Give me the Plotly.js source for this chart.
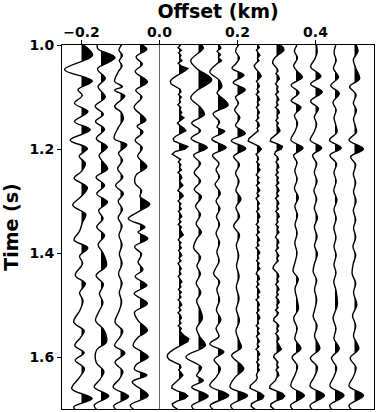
<!DOCTYPE html>
<html><head><meta charset="utf-8">
<script src="https://cdn.plot.ly/plotly-3.0.1.min.js"></script>
<style>html,body{margin:0;padding:0;background:#fff;} #chart{width:376px;height:412px;}</style>
</head><body><div id="chart"></div>
<script>
// ---- data: trace offsets (km) and wiggle samples [time (s), amplitude] ----
const offsets = [-0.2, -0.15, -0.1, -0.05, 0.05, 0.1, 0.15, 0.2, 0.25, 0.3, 0.35, 0.4, 0.45, 0.5];
const xTickVals = [-0.2, 0.0, 0.2, 0.4];
const xTickText = ['\u22120.2', '0.0', '0.2', '0.4'];
const yTickVals = [1.0, 1.2, 1.4, 1.6];
const yTickText = ['1.0', '1.2', '1.4', '1.6'];

const tr_m20 = [[1.000,0.10],[1.020,0.57],[1.047,-0.87],[1.069,0.55],[1.086,-0.18],[1.097,0.04],[1.112,-0.36],[1.128,0.33],[1.147,-0.36],[1.163,0.45],[1.183,-0.58],[1.199,0.30],[1.214,-0.12],[1.228,0.20],[1.243,0.00],[1.256,-0.38],[1.274,0.30],[1.290,0.02],[1.308,-0.45],[1.326,0.22],[1.341,0.05],[1.358,-0.10],[1.375,-0.38],[1.390,0.32],[1.406,-0.10],[1.420,0.06],[1.443,-0.32],[1.459,0.20],[1.476,-0.10],[1.492,0.08],[1.510,-0.08],[1.533,-0.40],[1.550,0.14],[1.563,-0.06],[1.578,-0.34],[1.592,0.14],[1.606,-0.32],[1.622,0.15],[1.640,-0.12],[1.661,-0.50],[1.680,0.55],[1.696,-0.40],[1.705,-0.20]];
const tr_m15 = [[1.000,-0.20],[1.008,-0.15],[1.024,0.72],[1.046,-0.18],[1.064,0.22],[1.080,-0.15],[1.100,0.22],[1.118,-0.30],[1.133,0.12],[1.147,-0.28],[1.162,0.18],[1.180,-0.24],[1.196,0.32],[1.212,-0.10],[1.224,0.08],[1.238,0.34],[1.254,-0.25],[1.270,0.18],[1.286,-0.22],[1.302,0.34],[1.318,-0.12],[1.334,0.10],[1.350,-0.22],[1.366,0.18],[1.384,-0.15],[1.400,0.10],[1.424,0.28],[1.443,-0.25],[1.460,0.12],[1.478,-0.08],[1.495,0.10],[1.512,-0.10],[1.530,-0.28],[1.548,0.15],[1.571,0.28],[1.586,-0.22],[1.610,-0.25],[1.628,0.15],[1.643,-0.05],[1.658,-0.35],[1.675,0.40],[1.693,-0.35],[1.705,-0.10]];
const tr_m10 = [[1.000,0.05],[1.010,-0.08],[1.020,0.10],[1.030,-0.06],[1.040,0.08],[1.052,-0.12],[1.070,-0.30],[1.080,0.10],[1.087,-0.30],[1.098,0.22],[1.118,-0.30],[1.130,0.05],[1.142,0.15],[1.158,-0.10],[1.180,-0.32],[1.192,0.32],[1.208,-0.10],[1.222,0.10],[1.238,-0.15],[1.254,0.12],[1.270,-0.25],[1.286,0.15],[1.300,-0.12],[1.316,0.10],[1.332,-0.12],[1.348,0.08],[1.366,-0.08],[1.384,0.08],[1.402,-0.06],[1.420,0.08],[1.440,-0.10],[1.458,0.08],[1.476,-0.06],[1.494,0.06],[1.512,-0.08],[1.533,-0.28],[1.550,0.12],[1.563,-0.05],[1.578,-0.30],[1.592,0.22],[1.610,-0.28],[1.628,0.12],[1.642,-0.05],[1.658,-0.38],[1.676,0.42],[1.694,-0.35],[1.705,-0.10]];
const tr_m05 = [[1.000,0.10],[1.008,0.35],[1.023,-0.20],[1.037,0.12],[1.051,-0.25],[1.071,0.38],[1.087,-0.22],[1.100,0.10],[1.120,-0.30],[1.144,0.30],[1.156,-0.15],[1.168,0.15],[1.183,-0.25],[1.198,0.12],[1.214,-0.12],[1.234,0.35],[1.250,-0.20],[1.266,-0.25],[1.280,0.08],[1.292,0.00],[1.306,0.50],[1.320,-0.05],[1.334,-0.60],[1.350,0.25],[1.360,-0.10],[1.372,0.40],[1.388,-0.28],[1.402,0.08],[1.418,-0.10],[1.432,0.15],[1.445,-0.25],[1.462,0.35],[1.478,-0.30],[1.497,0.38],[1.514,-0.28],[1.530,-0.10],[1.549,0.38],[1.562,-0.10],[1.578,-0.35],[1.590,0.10],[1.600,0.42],[1.615,-0.20],[1.624,-0.28],[1.635,0.35],[1.648,-0.40],[1.674,0.42],[1.693,-0.50],[1.705,-0.15]];
// noisy traces: amplitudes every 5 ms from 1.000 s
const tr_p05 = [0.08,-0.05,0.12,-0.02,0.10,0.03,0.15,-0.04,0.10,
 0.45,0.30,0.05,-0.15,-0.35,-0.45,-0.40,-0.15,0.05,
 0.10,-0.03,0.12,0.02,0.08,-0.06,0.10,0.04,0.14,0.05,
 0.25,0.10,-0.08,0.05,0.25,0.35,0.10,-0.15,-0.30,-0.25,0.10,0.45,0.30,-0.20,-0.35,-0.10,0.08,
 -0.04,0.10,0.02,0.12,-0.05,0.08,0.15,0.03,0.10,0.20,
 0.05,-0.06,0.12,0.22,0.08,-0.05,0.10,0.02,0.12,-0.03,
 0.08,0.14,0.00,0.10,-0.04,0.12,0.05,0.15,0.22,0.06,
 -0.04,0.10,0.02,0.12,-0.02,0.08,0.14,0.00,0.10,-0.05,
 0.06,0.12,0.02,0.10,-0.04,0.08,0.15,0.04,0.10,-0.03,
 0.12,0.02,0.10,-0.04,0.08,0.14,0.00,0.10,-0.05,0.08,
 0.12,0.02,0.10,-0.04,0.12,0.05,0.15,0.30,
 0.50,0.45,0.20,-0.05,-0.25,-0.45,-0.58,-0.60,-0.50,-0.25,
 0.05,0.10,-0.02,0.12,0.20,0.08,-0.05,-0.20,-0.35,-0.37,
 -0.10,0.30,0.45,0.30,-0.10,-0.35,-0.30,-0.10,0.05];
const tr_p10 = [[1.000,0.15],[1.006,0.25],[1.030,-0.40],[1.045,-0.10],[1.067,0.68],[1.088,-0.10],[1.102,-0.40],[1.120,0.10],[1.134,0.30],[1.150,-0.35],[1.165,0.10],[1.180,-0.38],[1.197,0.45],[1.212,-0.25],[1.228,0.10],[1.245,-0.22],[1.262,0.10],[1.278,-0.22],[1.292,0.15],[1.310,-0.15],[1.326,0.10],[1.344,-0.12],[1.360,0.15],[1.372,-0.08],[1.390,-0.25],[1.408,0.10],[1.425,-0.08],[1.440,0.10],[1.458,-0.12],[1.476,0.12],[1.492,-0.10],[1.508,0.08],[1.526,0.20],[1.545,-0.10],[1.560,0.05],[1.578,0.35],[1.600,-0.65],[1.620,0.15],[1.636,-0.10],[1.645,0.25],[1.658,-0.35],[1.675,0.50],[1.694,-0.35],[1.705,-0.10]];
const tr_p15 = [[1.000,0.05],[1.006,0.15],[1.012,-0.05],[1.018,0.12],[1.024,0.02],[1.030,0.18],[1.036,-0.05],[1.052,-0.42],[1.068,0.08],[1.080,0.20],[1.092,-0.05],[1.115,0.52],[1.132,-0.25],[1.148,0.08],[1.158,-0.05],[1.166,0.35],[1.181,-0.32],[1.197,0.42],[1.212,-0.28],[1.228,0.05],[1.240,-0.10],[1.254,0.08],[1.268,-0.15],[1.285,0.12],[1.300,-0.10],[1.315,0.10],[1.330,-0.08],[1.345,0.08],[1.362,-0.10],[1.380,0.08],[1.398,-0.06],[1.415,0.06],[1.440,-0.22],[1.455,0.08],[1.470,-0.06],[1.490,0.08],[1.510,-0.08],[1.528,0.15],[1.545,-0.10],[1.560,0.05],[1.575,-0.42],[1.590,0.30],[1.605,-0.20],[1.622,0.12],[1.638,-0.08],[1.655,-0.42],[1.674,0.55],[1.693,-0.40],[1.705,-0.10]];
const tr_p20 = [[1.000,0.05],[1.012,-0.10],[1.025,0.10],[1.036,-0.08],[1.045,-0.28],[1.058,0.33],[1.072,-0.22],[1.086,0.40],[1.100,-0.10],[1.112,0.05],[1.125,-0.15],[1.140,0.12],[1.155,-0.10],[1.170,0.40],[1.184,-0.32],[1.199,0.42],[1.214,-0.20],[1.230,0.10],[1.246,-0.10],[1.262,0.08],[1.280,-0.08],[1.296,0.18],[1.312,-0.08],[1.330,0.10],[1.348,-0.20],[1.365,0.10],[1.385,-0.06],[1.405,0.06],[1.425,-0.05],[1.445,0.08],[1.465,-0.06],[1.488,0.08],[1.508,-0.06],[1.530,0.10],[1.550,-0.08],[1.570,0.10],[1.582,0.20],[1.597,-0.30],[1.622,0.32],[1.640,-0.15],[1.658,-0.38],[1.674,0.52],[1.693,-0.35],[1.705,-0.10]];
const tr_p25 = [0.05,0.12,-0.03,0.08,0.15,0.02,0.10,-0.05,
 -0.15,-0.08,0.05,0.15,0.22,0.10,-0.03,0.08,
 0.12,0.00,0.10,-0.04,0.08,0.14,0.02,0.10,-0.03,0.06,0.12,0.02,0.09,-0.05,0.08,0.12,0.00,0.06,-0.10,-0.25,
 -0.42,-0.45,-0.20,0.10,0.22,0.12,-0.05,0.05,
 0.08,-0.02,0.12,0.05,0.15,0.03,-0.04,0.10,0.02,0.12,
 -0.03,0.08,0.14,0.00,0.10,-0.05,0.06,0.12,0.03,0.10,
 -0.02,0.09,0.15,0.04,0.08,-0.04,0.10,0.02,0.12,-0.03,
 0.07,0.13,0.01,0.10,-0.05,0.08,0.14,0.03,0.09,-0.02,
 0.11,0.04,0.15,0.02,-0.04,0.09,0.12,0.00,0.10,-0.03,
 0.08,0.14,0.02,0.10,-0.05,0.07,0.12,0.03,0.11,-0.02,
 0.09,0.15,0.04,0.08,-0.04,0.10,0.02,0.12,-0.03,0.07,
 0.13,0.01,0.10,-0.05,0.08,0.14,0.03,0.09,-0.02,0.11,
 0.04,0.12,0.02,-0.03,0.02,
 -0.05,-0.20,-0.34,-0.36,-0.10,0.20,0.35,0.28,-0.05,-0.28,-0.30,-0.10,0.05];
const tr_p30 = [0.20,0.35,0.38,0.25,0.05,-0.10,-0.18,-0.20,-0.10,0.02,
 0.08,-0.03,0.10,0.15,0.04,-0.05,0.08,0.02,0.10,-0.04,
 0.06,0.12,0.00,0.08,-0.05,0.10,0.15,0.03,0.08,-0.03,
 0.10,0.02,0.12,0.18,0.05,-0.10,-0.28,-0.32,0.05,0.30,
 0.25,-0.05,-0.10,0.05,0.10,-0.03,0.08,0.12,0.00,0.09,
 -0.04,0.10,0.03,0.12,-0.02,0.08,0.13,0.01,0.10,-0.05,
 0.07,0.12,0.02,0.10,-0.04,0.09,0.14,0.03,0.08,-0.03,
 0.10,0.04,0.13,0.01,-0.05,0.08,0.12,0.02,0.10,-0.04,
 0.06,0.12,0.02,0.09,-0.05,-0.15,-0.18,-0.05,0.08,0.12,
 0.03,0.10,-0.04,0.07,0.13,0.01,0.09,-0.03,0.10,0.14,
 0.02,0.08,-0.05,0.10,0.04,-0.12,-0.15,0.02,0.12,0.03,
 0.09,-0.04,0.08,0.13,0.02,0.10,0.18,0.25,0.10,-0.10,
 -0.15,-0.05,0.08,0.02,0.10,-0.03,0.08,0.12,0.00,-0.05,
 -0.20,-0.33,-0.35,-0.05,0.30,0.42,0.30,-0.05,-0.28,-0.30,
 -0.12,0.02];
const tr_p35 = [[1.000,0.05],[1.012,-0.08],[1.025,0.08],[1.040,-0.12],[1.050,0.05],[1.062,0.33],[1.077,-0.25],[1.092,0.15],[1.107,-0.25],[1.120,0.25],[1.135,-0.08],[1.150,0.08],[1.166,-0.05],[1.183,-0.26],[1.198,0.36],[1.212,-0.12],[1.226,0.05],[1.242,-0.06],[1.258,0.06],[1.276,-0.08],[1.293,0.12],[1.310,-0.06],[1.328,0.08],[1.345,-0.05],[1.362,0.06],[1.380,-0.06],[1.400,0.05],[1.418,-0.05],[1.435,-0.15],[1.450,0.12],[1.468,-0.05],[1.490,0.06],[1.508,0.12],[1.525,-0.12],[1.545,0.06],[1.565,-0.06],[1.584,0.25],[1.600,-0.20],[1.618,0.08],[1.635,-0.06],[1.656,-0.26],[1.674,0.43],[1.693,-0.28],[1.705,-0.05]];
const tr_p40 = [[1.000,0.05],[1.015,0.08],[1.028,-0.05],[1.042,-0.25],[1.060,0.28],[1.075,-0.25],[1.090,0.35],[1.108,-0.25],[1.122,0.15],[1.138,-0.06],[1.152,0.06],[1.168,-0.08],[1.183,-0.27],[1.198,0.32],[1.212,-0.15],[1.228,0.06],[1.245,-0.06],[1.262,0.08],[1.280,-0.08],[1.296,0.06],[1.314,-0.06],[1.332,0.10],[1.350,-0.06],[1.368,0.08],[1.386,-0.05],[1.402,0.10],[1.420,-0.05],[1.436,-0.12],[1.452,0.06],[1.470,-0.05],[1.490,0.06],[1.510,-0.05],[1.522,-0.12],[1.540,0.08],[1.560,-0.05],[1.584,0.22],[1.602,-0.26],[1.620,0.10],[1.638,-0.06],[1.656,-0.28],[1.674,0.46],[1.693,-0.28],[1.705,-0.05]];
const tr_p45 = [[1.000,0.04],[1.015,-0.05],[1.030,0.06],[1.045,-0.08],[1.062,0.18],[1.078,-0.22],[1.093,0.22],[1.110,-0.10],[1.125,0.06],[1.140,-0.05],[1.155,0.05],[1.168,0.10],[1.183,-0.28],[1.198,0.32],[1.212,-0.26],[1.228,0.08],[1.245,-0.05],[1.262,0.06],[1.280,-0.06],[1.298,0.10],[1.316,-0.05],[1.334,0.06],[1.352,-0.06],[1.370,0.05],[1.388,-0.05],[1.404,0.06],[1.422,-0.05],[1.438,0.05],[1.455,-0.06],[1.472,0.05],[1.500,0.12],[1.525,-0.10],[1.545,0.05],[1.565,-0.05],[1.584,0.22],[1.602,-0.18],[1.620,0.08],[1.638,-0.06],[1.656,-0.26],[1.674,0.46],[1.693,-0.27],[1.705,-0.05]];
const tr_p50 = [[1.000,0.08],[1.012,0.18],[1.028,-0.06],[1.044,0.06],[1.065,0.26],[1.080,-0.25],[1.095,0.08],[1.112,-0.06],[1.125,0.10],[1.142,-0.05],[1.158,0.06],[1.168,0.10],[1.183,-0.28],[1.200,0.46],[1.215,-0.20],[1.230,0.06],[1.248,-0.06],[1.265,0.06],[1.282,-0.05],[1.300,0.08],[1.318,-0.06],[1.336,0.06],[1.352,-0.05],[1.370,0.06],[1.388,-0.08],[1.404,0.06],[1.420,-0.06],[1.440,-0.12],[1.458,0.06],[1.476,-0.05],[1.500,0.12],[1.520,-0.10],[1.540,0.06],[1.560,-0.05],[1.584,0.22],[1.602,-0.22],[1.620,0.08],[1.638,-0.06],[1.656,-0.28],[1.674,0.46],[1.693,-0.28],[1.705,-0.05]];

const traceList = [tr_m20, tr_m15, tr_m10, tr_m05, tr_p05, tr_p10, tr_p15, tr_p20, tr_p25, tr_p30, tr_p35, tr_p40, tr_p45, tr_p50];
const noisy = [false,false,false,false,true,false,false,false,true,true,false,false,false,false];
const T0 = 1.0, DT = 0.005;   // sampling of the noisy traces
const AMP = 0.05;             // km of deflection per unit amplitude

function toPairs(arr, dense){
  return dense ? arr.map((a,i)=>[T0 + i*DT, a]) : arr;
}
function lobes(pts, off){
  const xs=[], ys=[]; let inRun=false;
  for(let i=0;i<pts.length;i++){
    const t=pts[i][0], a=pts[i][1];
    if(a>0){
      if(!inRun){
        if(i>0){const t0=pts[i-1][0], a0=pts[i-1][1]; xs.push(off); ys.push(t0+(t-t0)*(-a0)/(a-a0));}
        else {xs.push(off); ys.push(t);}
        inRun=true;
      }
      xs.push(off+a*AMP); ys.push(t);
      if(i===pts.length-1 || pts[i+1][1]<=0){
        if(i<pts.length-1){const t1=pts[i+1][0], a1=pts[i+1][1]; xs.push(off); ys.push(t+(t1-t)*a/(a-a1));}
        else {xs.push(off); ys.push(t);}
        xs.push(null); ys.push(null); inRun=false;
      }
    }
  }
  return {xs, ys};
}

const data = [];
traceList.forEach((arr, k)=>{
  const off = offsets[k];
  const pts = toPairs(arr, noisy[k]);
  const shape = noisy[k] ? 'linear' : 'spline';
  const L = lobes(pts, off);
  data.push({x:L.xs, y:L.ys, mode:'lines', fill:'toself', fillcolor:'black',
             line:{width:0, color:'black', shape:shape}, hoverinfo:'skip', showlegend:false});
  data.push({x:pts.map(p=>off+p[1]*AMP), y:pts.map(p=>p[0]), mode:'lines',
             line:{width:1.4, color:'black', shape:shape}, hoverinfo:'skip', showlegend:false});
});

const F = 'DejaVu Sans, Arial, sans-serif';
const bold = s => '<b>' + s + '</b>';
const layout = {
  width:376, height:412,
  margin:{l:62, r:2, t:45, b:3},
  paper_bgcolor:'white', plot_bgcolor:'white',
  showlegend:false,
  font:{family:F, color:'black'},
  xaxis:{side:'top', range:[-0.25,0.55], tickmode:'array', tickvals:xTickVals, ticktext:xTickText.map(bold),
    ticks:'outside', ticklen:4, tickwidth:1, tickcolor:'black', showline:true, mirror:true, linecolor:'black', linewidth:1,
    showgrid:false, zeroline:true, zerolinecolor:'#666', zerolinewidth:1, ticklabelstandoff:-3,
    tickfont:{family:F, size:14, color:'black'},
    title:{text:bold('Offset (km)'), font:{family:F, size:19, color:'black'}, standoff:2},
    automargin:false},
  yaxis:{range:[1.7,1.0], tickmode:'array', tickvals:yTickVals, ticktext:yTickText.map(bold),
    ticks:'outside', ticklen:4, tickwidth:1, tickcolor:'black', showline:true, mirror:true, linecolor:'black', linewidth:1,
    showgrid:false, zeroline:false,
    tickfont:{family:F, size:14, color:'black'},
    title:{text:bold('Time (s)'), font:{family:F, size:19, color:'black'}, standoff:6},
    automargin:false}
};
Plotly.newPlot('chart', data, layout, {staticPlot:true, displayModeBar:false});
</script></body></html>
